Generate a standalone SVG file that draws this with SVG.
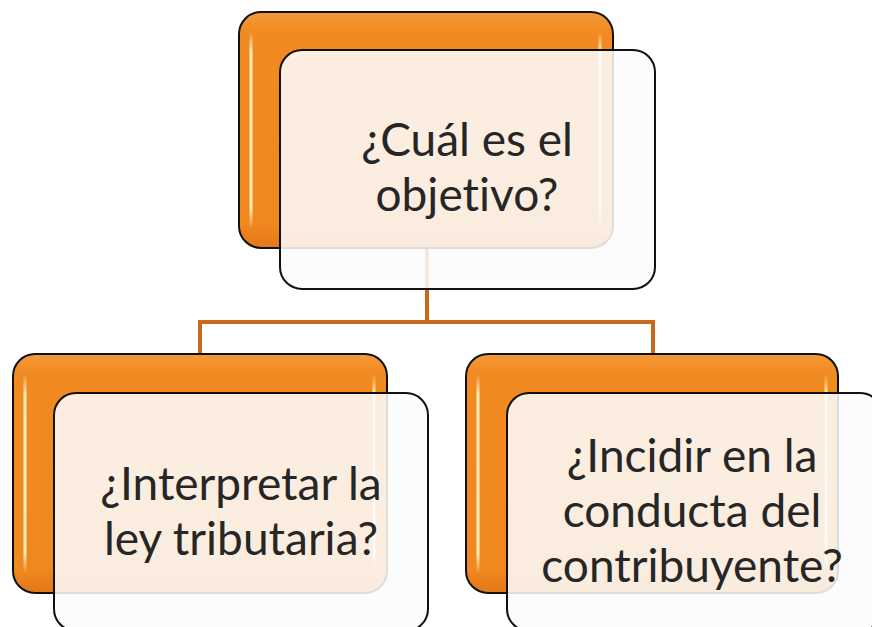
<svg xmlns="http://www.w3.org/2000/svg" width="872" height="627" viewBox="0 0 872 627">
<defs>
<linearGradient id="og" x1="0" y1="0" x2="0" y2="1">
<stop offset="0" stop-color="#F39A3A"/>
<stop offset="0.08" stop-color="#F28A22"/>
<stop offset="0.9" stop-color="#F08820"/>
<stop offset="1" stop-color="#E27818"/>
</linearGradient>
<linearGradient id="hl" x1="0" y1="0" x2="0" y2="1">
<stop offset="0" stop-color="#FFF6D0" stop-opacity="0"/>
<stop offset="0.1" stop-color="#FFF3C0" stop-opacity="0.95"/>
<stop offset="0.9" stop-color="#FFF3C0" stop-opacity="0.95"/>
<stop offset="1" stop-color="#FFF6D0" stop-opacity="0"/>
</linearGradient>
</defs>
<style>
.or{fill:url(#og);stroke:#111;stroke-width:2}
.gl{stroke:url(#hl);stroke-width:3;fill:none;stroke-linecap:round}
.wb{fill:#FCFCFC;fill-opacity:0.87;stroke:#111;stroke-width:2}
.tx{font-family:Lato,"Open Sans","Noto Sans",sans-serif;font-size:46px;fill:#262626;text-anchor:middle;font-variant-ligatures:none}
.cn{stroke:#C8691C;stroke-width:4;fill:none}
</style>
<g id="connectors">
<path class="cn" d="M427 240 V322 M200 322 H653 M200 320 V356 M653 320 V356"/>
</g>
<g id="node-top">
<rect class="or" x="239" y="12" width="374" height="236" rx="22"/>
<path class="gl" d="M251 32 V228 M600 32 V228"/>
<rect class="wb" x="280" y="50" width="375" height="239" rx="22"/>
<text class="tx" x="467" y="156">¿Cuál es el</text>
<text class="tx" x="467" y="211">objetivo?</text>
</g>
<g id="node-left">
<rect class="or" x="13" y="354" width="374" height="239" rx="22"/>
<path class="gl" d="M25 374 V573 M374 374 V573"/>
<rect class="wb" x="54" y="393" width="374" height="238" rx="22"/>
<text class="tx" x="241" y="500">¿Interpretar la</text>
<text class="tx" x="241" y="555">ley tributaria?</text>
</g>
<g id="node-right">
<rect class="or" x="466" y="354" width="372" height="239" rx="22"/>
<path class="gl" d="M478 374 V573 M826 374 V573"/>
<rect class="wb" x="507" y="393" width="375" height="238" rx="22"/>
<text class="tx" x="692" y="472">¿Incidir en la</text>
<text class="tx" x="692" y="527">conducta del</text>
<text class="tx" x="692" y="582">contribuyente?</text>
</g>
</svg>
